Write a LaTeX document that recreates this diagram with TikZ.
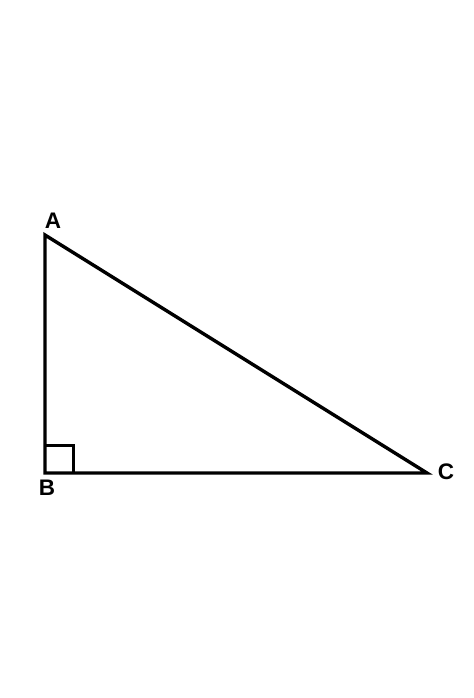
\documentclass[tikz,border=0pt]{standalone}
\usepackage{fontspec}
\setmainfont{Liberation Sans}
\usepackage{tikz}
\usetikzlibrary{calc,positioning}

\begin{document}
\begin{tikzpicture}[x=0.25mm,y=-0.25mm,font=\bfseries\fontsize{16}{18}\selectfont]

\tikzset{side/.style={line width=0.85mm,line join=miter,line cap=round},
vlabel/.style={inner sep=0pt}}

% Bounding box
\useasboundingbox (0,0) rectangle (474,698);

% Vertices
\coordinate (A) at (45,235);
\coordinate (B) at (45,473);
\coordinate (C) at (427,473);

% Labels
\node[vlabel] (lA) at (53,221) {A};
\node[vlabel] (lB) at (47,488) {B};
\node[vlabel] (lC) at (446,472) {C};

% Triangle
\draw[side] (A) -- (B) -- (C) -- cycle;

% Right angle
\draw[side,line width=0.75mm,line cap=butt] ($(B)+(0,-28)$) -- ($(B)+(28,-28)$) -- ($(B)+(28,0)$);

\end{tikzpicture}
\end{document}
